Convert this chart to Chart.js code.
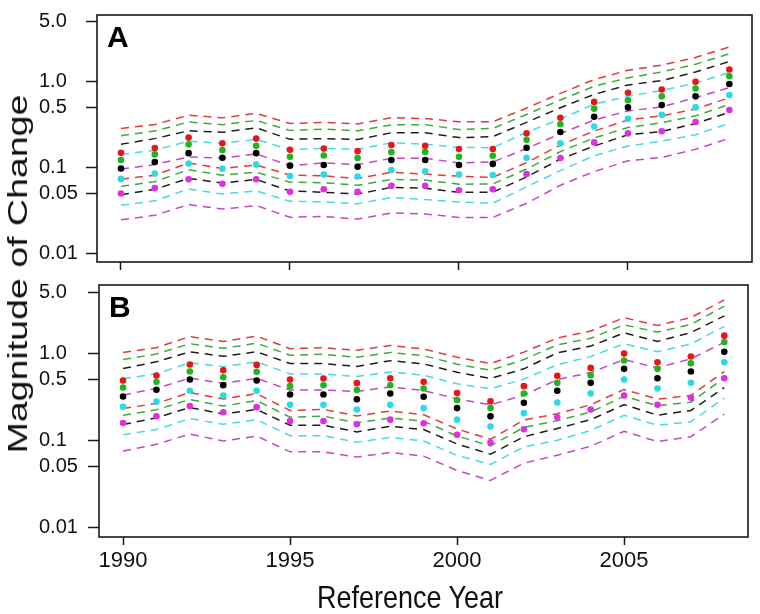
<!DOCTYPE html>
<html>
<head>
<meta charset="utf-8">
<script src="https://cdn.jsdelivr.net/npm/chart.js@4.4.1/dist/chart.umd.min.js"></script>
<style>
body{margin:0;background:#fff;width:760px;height:614px;overflow:hidden;position:relative;font-family:'Liberation Sans',Arial,sans-serif}
#chartA{position:absolute;left:0;top:0}
#chartB{position:absolute;left:0;top:270px}
.title{position:absolute;white-space:nowrap;line-height:1;color:#111}
#ytitle{left:18px;top:274px;font-size:28px;transform:translate(-50%,-50%) rotate(-90deg) scale(1.34,1)}
#xtitle{left:410px;top:598px;font-size:27px;transform:translate(-50%,-50%) scale(1,1.15)}
</style>
</head>
<body>
<canvas id="chartA" width="760" height="280"></canvas>
<canvas id="chartB" width="760" height="344"></canvas>
<div class="title" id="ytitle">Magnitude of Change</div>
<div class="title" id="xtitle">Reference Year</div>
<script>
var years=[1990,1991,1992,1993,1994,1995,1996,1997,1998,1999,2000,2001,2002,2003,2004,2005,2006,2007,2008]
var xTickValues=[1990,1995,2000,2005]
var yTickValues=[0.01,0.05,0.1,0.5,1,5]
var yTickLabels=['0.01','0.05','0.1','0.5','1.0','5.0']

// panel A: estimates (points) with upper / lower dashed bands
var aRed=[0.148,0.169,0.223,0.192,0.217,0.161,0.166,0.155,0.183,0.179,0.164,0.164,0.250,0.380,0.582,0.744,0.811,1.00,1.39]
var aRedUp=[0.285,0.317,0.407,0.379,0.428,0.326,0.336,0.322,0.381,0.372,0.341,0.341,0.494,0.731,1.06,1.36,1.56,1.92,2.54]
var aRedLo=[0.0730,0.0813,0.113,0.0973,0.107,0.0816,0.0798,0.0745,0.0880,0.0838,0.0788,0.0768,0.114,0.183,0.266,0.358,0.400,0.481,0.651]
var aGreen=[0.122,0.142,0.186,0.160,0.179,0.133,0.138,0.129,0.151,0.152,0.133,0.137,0.210,0.319,0.485,0.608,0.675,0.832,1.16]
var aGreenUp=[0.235,0.266,0.339,0.316,0.353,0.270,0.280,0.268,0.314,0.316,0.277,0.285,0.415,0.613,0.885,1.11,1.30,1.60,2.12]
var aGreenLo=[0.0602,0.0683,0.0942,0.0811,0.0883,0.0674,0.0663,0.0620,0.0726,0.0712,0.0639,0.0641,0.0959,0.153,0.221,0.292,0.333,0.400,0.543]
var aBlack=[0.0974,0.116,0.147,0.130,0.147,0.105,0.107,0.102,0.122,0.122,0.107,0.110,0.170,0.259,0.390,0.502,0.534,0.675,0.942]
var aBlackUp=[0.187,0.217,0.268,0.257,0.290,0.213,0.217,0.212,0.254,0.254,0.223,0.229,0.336,0.498,0.712,0.916,1.03,1.30,1.72]
var aBlackLo=[0.0481,0.0558,0.0745,0.0659,0.0725,0.0532,0.0514,0.0490,0.0587,0.0571,0.0514,0.0515,0.0776,0.125,0.178,0.241,0.263,0.325,0.441]
var aCyan=[0.0736,0.0848,0.111,0.0967,0.108,0.0796,0.0826,0.0784,0.0932,0.0901,0.0826,0.0818,0.130,0.191,0.300,0.370,0.411,0.502,0.699]
var aCyanUp=[0.142,0.159,0.203,0.191,0.213,0.161,0.167,0.163,0.194,0.187,0.172,0.170,0.257,0.367,0.548,0.675,0.790,0.965,1.28]
var aCyanLo=[0.0363,0.0408,0.0562,0.0490,0.0533,0.0403,0.0397,0.0377,0.0448,0.0422,0.0397,0.0383,0.0594,0.0918,0.137,0.178,0.203,0.241,0.327]
var aMag=[0.0497,0.0577,0.0730,0.0646,0.0730,0.0520,0.0558,0.0520,0.0613,0.0613,0.0543,0.0558,0.0839,0.129,0.196,0.250,0.265,0.339,0.468]
var aMagUp=[0.0956,0.108,0.133,0.128,0.144,0.105,0.113,0.108,0.128,0.128,0.113,0.116,0.166,0.248,0.358,0.456,0.510,0.652,0.854]
var aMagLo=[0.0245,0.0277,0.0370,0.0327,0.0360,0.0263,0.0268,0.0250,0.0295,0.0287,0.0261,0.0261,0.0383,0.0620,0.0895,0.120,0.131,0.163,0.219]

// panel B
var bRed=[0.489,0.559,0.747,0.643,0.741,0.502,0.516,0.456,0.520,0.472,0.350,0.281,0.421,0.554,0.684,1.00,0.794,0.924,1.61]
var bRedUp=[1.03,1.17,1.57,1.38,1.59,1.14,1.17,1.09,1.24,1.13,0.907,0.767,1.04,1.51,1.82,2.59,2.11,2.60,4.17]
var bRedLo=[0.233,0.266,0.356,0.299,0.345,0.221,0.227,0.191,0.218,0.197,0.135,0.103,0.171,0.203,0.257,0.386,0.298,0.329,0.622]
var bGreen=[0.407,0.472,0.621,0.534,0.616,0.421,0.432,0.379,0.432,0.396,0.291,0.235,0.347,0.460,0.563,0.831,0.667,0.774,1.36]
var bGreenUp=[0.855,0.991,1.30,1.15,1.32,0.956,0.981,0.906,1.03,0.946,0.754,0.642,0.854,1.26,1.50,2.15,1.77,2.17,3.52]
var bGreenLo=[0.194,0.225,0.296,0.248,0.287,0.185,0.190,0.159,0.181,0.166,0.112,0.0861,0.141,0.168,0.212,0.321,0.251,0.275,0.525]
var bBlack=[0.320,0.383,0.502,0.432,0.489,0.338,0.338,0.298,0.347,0.318,0.235,0.189,0.271,0.373,0.460,0.667,0.520,0.621,1.05]
var bBlackUp=[0.672,0.804,1.05,0.929,1.05,0.767,0.767,0.712,0.829,0.760,0.609,0.516,0.667,1.02,1.22,1.73,1.38,1.75,2.72]
var bBlackLo=[0.152,0.182,0.239,0.201,0.227,0.149,0.149,0.125,0.145,0.133,0.0907,0.0692,0.110,0.137,0.173,0.258,0.195,0.221,0.405]
var bCyan=[0.244,0.279,0.373,0.329,0.373,0.257,0.257,0.227,0.257,0.235,0.173,0.144,0.206,0.273,0.347,0.502,0.396,0.460,0.794]
var bCyanUp=[0.512,0.586,0.783,0.707,0.802,0.583,0.583,0.543,0.614,0.562,0.448,0.393,0.507,0.745,0.923,1.30,1.05,1.29,2.06]
var bCyanLo=[0.116,0.133,0.178,0.153,0.173,0.113,0.113,0.0950,0.108,0.0983,0.0668,0.0527,0.0837,0.100,0.130,0.194,0.149,0.164,0.307]
var bMag=[0.158,0.189,0.248,0.211,0.241,0.167,0.167,0.153,0.173,0.157,0.116,0.0942,0.134,0.184,0.227,0.329,0.257,0.310,0.520]
var bMagUp=[0.332,0.397,0.521,0.454,0.518,0.379,0.379,0.366,0.413,0.375,0.300,0.257,0.330,0.502,0.604,0.852,0.684,0.871,1.35]
var bMagLo=[0.0752,0.0900,0.118,0.0981,0.112,0.0736,0.0736,0.0640,0.0724,0.0657,0.0448,0.0345,0.0545,0.0674,0.0853,0.127,0.0966,0.110,0.201]

var pointColors=['#e8161b','#1fb51f','#000000','#2adbe6','#e02ee0']
var lineColors=['#e33b3b','#3cab3c','#1e1e1e','#45dbe5','#c845c8']
var fontFamily="'Liberation Sans', Arial, sans-serif"

function pairs(arr){
    var out=[]
    for(var i=0;i<years.length;i++) out.push({x:years[i], y:arr[i]})
    return out
}

function makeDatasets(mid, up, lo){
    var ds=[]
    for(var i=0;i<mid.length;i++){
        ds.push({data:pairs(mid[i]), showLine:false, pointRadius:3.3, pointBorderWidth:0,
            pointBackgroundColor:pointColors[i], order:0})
    }
    for(var i=0;i<mid.length;i++){
        var band=[up[i], lo[i]]
        for(var j=0;j<2;j++){
            ds.push({data:pairs(band[j]), borderColor:lineColors[i], borderWidth:1.5, borderDash:[8,6],
                pointRadius:0, tension:0, fill:false, order:1})
        }
    }
    return ds
}

// frame round the plot plus the panel letter
var boxPlugin={
    id:'box',
    afterDraw:function(chart, args, opts){
        var a=chart.chartArea, ctx=chart.ctx
        ctx.save()
        ctx.strokeStyle='#1a1a1a'
        ctx.lineWidth=1.6
        ctx.strokeRect(a.left, a.top, a.right-a.left, a.bottom-a.top)
        ctx.fillStyle='#000'
        ctx.font='bold 30px '+fontFamily
        ctx.textBaseline='alphabetic'
        ctx.fillText(opts.letter, a.left+10, a.top+32)
        ctx.restore()
    }
}

function makeScales(ymin, ymax, xmin, xmax, yWidth, xHeight, showX){
    return {
        x:{
            type:'linear', min:xmin, max:xmax,
            afterBuildTicks:function(s){ s.ticks=xTickValues.map(function(v){return {value:v}}) },
            afterFit:function(s){ s.height=xHeight },
            grid:{drawOnChartArea:false, tickLength:8, tickColor:'#1a1a1a', tickWidth:1.5},
            border:{display:false},
            ticks:{display:showX, autoSkip:false, maxRotation:0, padding:3, color:'#111',
                font:{size:22, family:fontFamily}, callback:function(v){ return String(v) }}
        },
        y:{
            type:'logarithmic', min:ymin, max:ymax,
            afterBuildTicks:function(s){ s.ticks=yTickValues.map(function(v){return {value:v}}) },
            afterFit:function(s){ s.width=yWidth },
            grid:{drawOnChartArea:false, tickLength:11, tickColor:'#1a1a1a', tickWidth:1.5},
            border:{display:false},
            ticks:{autoSkip:false, crossAlign:'far', color:'#111', font:{size:20, family:fontFamily},
                callback:function(v){ var i=yTickValues.indexOf(v); return i<0 ? '' : yTickLabels[i] }}
        }
    }
}

new Chart(document.getElementById('chartA').getContext('2d'), {
    type:'line',
    data:{datasets:makeDatasets([aRed,aGreen,aBlack,aCyan,aMag],
                                [aRedUp,aGreenUp,aBlackUp,aCyanUp,aMagUp],
                                [aRedLo,aGreenLo,aBlackLo,aCyanLo,aMagLo])},
    options:{
        responsive:false, animation:false,
        layout:{padding:{left:39, top:7, right:8, bottom:0}},
        plugins:{legend:{display:false}, tooltip:{enabled:false}, box:{letter:'A'}},
        scales:makeScales(0.0079, 6.0, 1989.29, 2008.67, 58, 18, false)
    },
    plugins:[boxPlugin]
})

new Chart(document.getElementById('chartB').getContext('2d'), {
    type:'line',
    data:{datasets:makeDatasets([bRed,bGreen,bBlack,bCyan,bMag],
                                [bRedUp,bGreenUp,bBlackUp,bCyanUp,bMagUp],
                                [bRedLo,bGreenLo,bBlackLo,bCyanLo,bMagLo])},
    options:{
        responsive:false, animation:false,
        layout:{padding:{left:39, top:13, right:12, bottom:0}},
        plugins:{legend:{display:false}, tooltip:{enabled:false}, box:{letter:'B'}},
        scales:makeScales(0.00767, 6.18, 1989.28, 2008.71, 60, 77, true)
    },
    plugins:[boxPlugin]
})
</script>
</body>
</html>
